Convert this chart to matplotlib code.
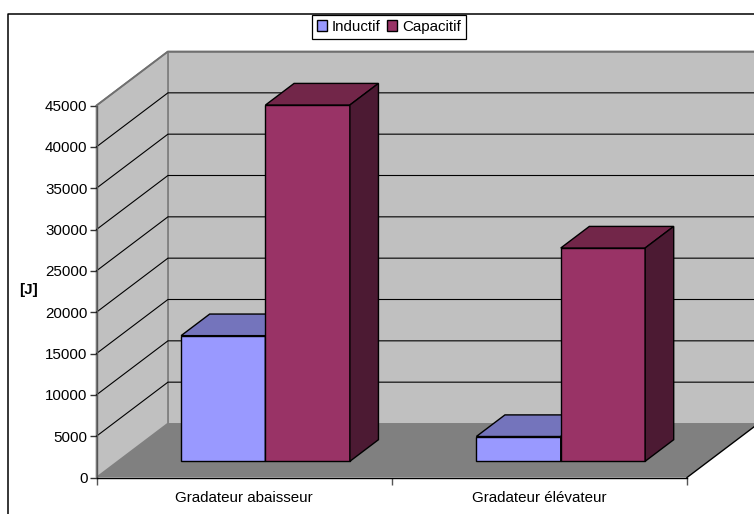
import matplotlib
matplotlib.use('Agg')
import matplotlib.pyplot as plt
from matplotlib.patches import Patch, Polygon

plt.rcParams['font.family'] = ['Liberation Sans', 'DejaVu Sans']

categories = ['Gradateur abaisseur', 'Gradateur élévateur']
inductif = [15200, 3000]
capacitif = [43100, 25800]
y_ticks = [0, 5000, 10000, 15000, 20000, 25000, 30000, 35000, 40000, 45000]

W, H = 754, 514
# oblique depth, one full floor depth in data units
DX = 71.5 / 295.5
DY = 54 / 372 * 45000
BAR_W = 0.2858
BAR_START = 0.214
D_FRONT = 0.3
D_BACK = 0.7

BLUE = ('#9999ff', '#7474bc', '#4c4c80')
PURPLE = ('#993366', '#722649', '#4c1a33')


def proj(x, v, d):
    return (x + d * DX, v + d * DY)


def poly(ax, pts, fc, ec='black', lw=1.0, z=2):
    ax.add_patch(Polygon(pts, closed=True, facecolor=fc, edgecolor=ec, linewidth=lw,
                         zorder=z, clip_on=False, joinstyle='miter'))


def bar3d(ax, x, v, colors):
    x2 = x + BAR_W
    # front face, top and side
    poly(ax, [proj(x, 0, D_FRONT), proj(x2, 0, D_FRONT), proj(x2, v, D_FRONT), proj(x, v, D_FRONT)], colors[0], z=4)
    poly(ax, [proj(x, v, D_FRONT), proj(x2, v, D_FRONT), proj(x2, v, D_BACK), proj(x, v, D_BACK)], colors[1], z=4)
    poly(ax, [proj(x2, 0, D_FRONT), proj(x2, 0, D_BACK), proj(x2, v, D_BACK), proj(x2, v, D_FRONT)], colors[2], z=4)


fig = plt.figure(figsize=(W / 100, H / 100), dpi=100)
ax = fig.add_axes([96.5 / W, 1 - 477.5 / H, 590.5 / W, 372 / H])
ax.set_xlim(0, 2)
ax.set_ylim(0, 45000)
ax.patch.set_visible(False)

top = y_ticks[-1]
# floor, back wall, side wall
poly(ax, [proj(0, 0, 0), proj(2, 0, 0), proj(2, 0, 1), proj(0, 0, 1)], '#808080', ec='none', z=1)
poly(ax, [proj(0, 0, 1), proj(2, 0, 1), proj(2, top, 1), proj(0, top, 1)], '#c0c0c0', ec='#808080', lw=1.2, z=1)
poly(ax, [proj(0, 0, 0), proj(0, 0, 1), proj(0, top, 1), proj(0, top, 0)], '#c0c0c0', ec='#808080', lw=1.2, z=1)
ax.plot(*zip(proj(2, 0, 0), proj(2, 0, 1)), color='black', lw=1.0, zorder=2, clip_on=False)

for t in y_ticks[1:-1]:
    ax.plot(*zip(proj(0, t, 0), proj(0, t, 1), proj(2, t, 1)), color='black', lw=0.8, zorder=2, clip_on=False)
ax.plot(*zip(proj(0, top, 0), proj(0, top, 1), proj(2, top, 1)), color='#707070', lw=1.3, zorder=2, clip_on=False)
ax.plot(*zip(proj(0, 0, 1), proj(2, 0, 1)), color='#808080', lw=1.2, zorder=2, clip_on=False)

for i in range(len(categories)):
    x0 = i + BAR_START
    bar3d(ax, x0, inductif[i], BLUE)
    bar3d(ax, x0 + BAR_W, capacitif[i], PURPLE)

for s in ['top', 'right']:
    ax.spines[s].set_visible(False)
ax.spines['left'].set_color('#555555')
ax.spines['bottom'].set_color('black')
ax.spines['left'].set_linewidth(1.0)
ax.spines['bottom'].set_linewidth(1.0)
ax.spines['left'].set_zorder(5)
ax.spines['bottom'].set_zorder(5)

ax.set_yticks(y_ticks)
ax.set_xticks([0, 1, 2])
ax.set_xticklabels([])
ax.set_xticks([0.5, 1.5], minor=True)
ax.set_xticklabels(categories, minor=True, fontsize=10.9, color='black')
ax.tick_params(axis='x', which='minor', length=0, pad=9.5)
ax.tick_params(axis='x', which='major', length=5, width=1, color='#555555')
ax.tick_params(axis='y', length=5, width=1, color='#333333', labelsize=10.9, pad=1.5)
ax.set_ylabel('[J]', fontsize=10.9, fontweight='bold', labelpad=12, rotation=0, va='center', y=0.505)

# chart area border runs off the picture at right and bottom
fig.add_artist(plt.Line2D([7.5 / W, 7.5 / W, 1], [0, 1 - 13.5 / H, 1 - 13.5 / H], color='black', lw=1.1))

handles = [Patch(facecolor=BLUE[0], edgecolor='black', label='Inductif'),
           Patch(facecolor=PURPLE[0], edgecolor='black', label='Capacitif')]
leg = fig.legend(handles=handles, loc='center', bbox_to_anchor=(389 / W, 1 - 27 / H), ncol=2, fontsize=10.9,
                 fancybox=False, framealpha=1, edgecolor='black', handlelength=0.65, handleheight=0.7,
                 handletextpad=0.33, columnspacing=0.45, borderpad=0.3, borderaxespad=0)
leg.get_frame().set_linewidth(0.9)

fig.savefig('out.png', dpi=100)
